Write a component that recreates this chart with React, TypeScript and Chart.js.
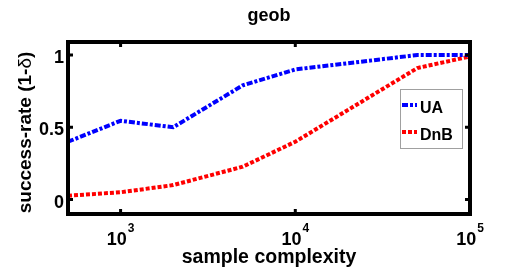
import React, { useEffect, useRef } from "react";
import { Chart, registerables } from "chart.js";

Chart.register(...registerables);

const sampleSizes = [500, 1000, 2000, 5000, 10000, 50000, 100000];
const uaValues = [0.4, 0.545, 0.5, 0.79, 0.9, 1.0, 1.0];
const dnbValues = [0.027, 0.05, 0.1, 0.227, 0.4, 0.91, 0.99];
const xTickValues = [1000, 10000, 100000];
const xTickExponents = ["3", "4", "5"];
const yTickValues = [0, 0.5, 1];
const yTickLabels = ["0", "0.5", "1"];
const seriesNames = ["UA", "DnB"];
const titleText = "geob";
const xTitle = "sample complexity";
const yTitleParts = ["success-rate (1-", "δ", ")"];

const FONT = '"Liberation Sans", Arial, Helvetica, sans-serif';

const decorPlugin = {
  id: "decor",
  afterDraw(chart: any) {
    const ctx = chart.ctx as CanvasRenderingContext2D;
    const { left, right, top, bottom } = chart.chartArea;
    const xs = chart.scales.x;
    const ys = chart.scales.y;
    ctx.save();
    // box
    ctx.strokeStyle = "#000";
    ctx.lineWidth = 4;
    ctx.strokeRect(left, top, right - left, bottom - top);
    // ticks
    ctx.lineWidth = 3;
    xTickValues.forEach((v) => {
      const px = xs.getPixelForValue(v);
      ctx.beginPath();
      ctx.moveTo(px, bottom);
      ctx.lineTo(px, bottom - 5);
      ctx.moveTo(px, top);
      ctx.lineTo(px, top + 5);
      ctx.stroke();
    });
    yTickValues.forEach((v) => {
      const py = ys.getPixelForValue(v);
      ctx.beginPath();
      ctx.moveTo(left, py);
      ctx.lineTo(left + 5, py);
      ctx.moveTo(right, py);
      ctx.lineTo(right - 5, py);
      ctx.stroke();
    });
    ctx.fillStyle = "#000";
    // x tick labels
    xTickValues.forEach((v, i) => {
      const px = xs.getPixelForValue(v);
      ctx.font = `bold 18px ${FONT}`;
      const w1 = ctx.measureText("10").width;
      ctx.font = `bold 12px ${FONT}`;
      const w2 = ctx.measureText(xTickExponents[i]).width;
      const start = px - (w1 + w2 + 1) / 2;
      ctx.textAlign = "left";
      ctx.textBaseline = "alphabetic";
      ctx.font = `bold 18px ${FONT}`;
      ctx.fillText("10", start, 245);
      ctx.font = `bold 12px ${FONT}`;
      ctx.fillText(xTickExponents[i], start + w1 + 1, 232);
    });
    // y tick labels
    ctx.font = `bold 18px ${FONT}`;
    ctx.textAlign = "right";
    ctx.textBaseline = "alphabetic";
    yTickValues.forEach((v, i) => {
      const py = ys.getPixelForValue(v);
      ctx.fillText(yTickLabels[i], left - 4, py + 8);
    });
    // title
    ctx.textAlign = "center";
    ctx.font = `bold 18px ${FONT}`;
    ctx.fillText(titleText, (left + right) / 2, 21);
    // x title
    ctx.font = `bold 19.5px ${FONT}`;
    ctx.fillText(xTitle, (left + right) / 2, 263);
    // y title
    ctx.save();
    ctx.translate(31, 132.5);
    ctx.rotate(-Math.PI / 2);
    const fonts = [`bold 19px ${FONT}`, `19px ${FONT}`, `bold 19px ${FONT}`];
    const widths = yTitleParts.map((p, i) => {
      ctx.font = fonts[i];
      return ctx.measureText(p).width;
    });
    const total = widths.reduce((a, b) => a + b, 0);
    let cx = -total / 2;
    ctx.textAlign = "left";
    yTitleParts.forEach((p, i) => {
      ctx.font = fonts[i];
      ctx.fillText(p, cx, 0);
      cx += widths[i];
    });
    ctx.restore();
    // legend
    const lx = 400, ly = 89, lw = 62, lh = 59;
    ctx.fillStyle = "#fff";
    ctx.fillRect(lx, ly, lw, lh);
    ctx.strokeStyle = "#a0a0a0";
    ctx.lineWidth = 1;
    ctx.strokeRect(lx + 0.5, ly + 0.5, lw, lh);
    const ds = chart.data.datasets;
    const rows = [105, 132];
    ds.forEach((d: any, i: number) => {
      ctx.strokeStyle = d.borderColor;
      ctx.lineWidth = 4;
      ctx.setLineDash(d.borderDash);
      ctx.beginPath();
      ctx.moveTo(lx + 2, rows[i]);
      ctx.lineTo(lx + 17, rows[i]);
      ctx.stroke();
      ctx.setLineDash([]);
      ctx.fillStyle = "#000";
      ctx.textAlign = "left";
      ctx.font = `bold 16px ${FONT}`;
      ctx.fillText(seriesNames[i], lx + 20, rows[i] + 8);
    });
    ctx.restore();
  },
};

export default function App() {
  const ref = useRef<HTMLCanvasElement>(null);
  useEffect(() => {
    document.body.style.margin = "0";
    const chart = new Chart(ref.current!, {
      type: "line",
      data: {
        datasets: [
          {
            label: seriesNames[0],
            data: sampleSizes.map((x, i) => ({ x, y: uaValues[i] })),
            borderColor: "#0000ff",
            borderWidth: 4,
            borderDash: [6, 2, 3, 2],
            pointRadius: 0,
            tension: 0,
            fill: false,
          },
          {
            label: seriesNames[1],
            data: sampleSizes.map((x, i) => ({ x, y: dnbValues[i] })),
            borderColor: "#ff0000",
            borderWidth: 4,
            borderDash: [4, 2],
            pointRadius: 0,
            tension: 0,
            fill: false,
          },
        ],
      },
      options: {
        responsive: false,
        animation: false,
        devicePixelRatio: 1,
        layout: { padding: { left: 68, right: 51, top: 42, bottom: 55 } },
        plugins: { legend: { display: false }, tooltip: { enabled: false }, title: { display: false } },
        scales: {
          x: { type: "logarithmic", min: 500, max: 100000, display: false },
          y: { type: "linear", min: -0.1, max: 1.09, display: false },
        },
      },
      plugins: [decorPlugin],
    });
    return () => chart.destroy();
  }, []);
  return (
    <div style={{ width: 521, height: 269, background: "#fff" }}>
      <canvas ref={ref} width={521} height={269} />
    </div>
  );
}
